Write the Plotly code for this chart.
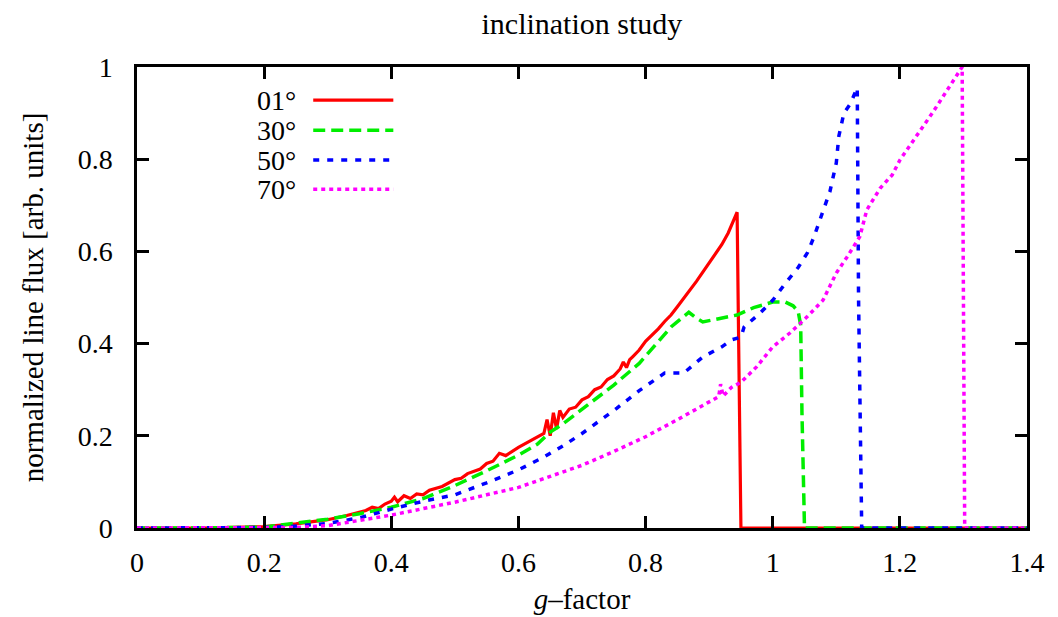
import plotly.graph_objects as go

# g-factor grids and normalized line flux for each inclination
g_01 = [0.0, 0.10, 0.20, 0.25, 0.30, 0.33, 0.36, 0.37, 0.38, 0.39, 0.40, 0.405, 0.41, 0.42,
        0.43, 0.44, 0.45, 0.46, 0.48, 0.50, 0.51, 0.52, 0.54, 0.55, 0.56, 0.57, 0.58, 0.60,
        0.62, 0.63, 0.64, 0.645, 0.65, 0.655, 0.66, 0.665, 0.67, 0.68, 0.69, 0.70, 0.71, 0.72,
        0.73, 0.74, 0.75, 0.76, 0.765, 0.77, 0.775, 0.78, 0.79, 0.80, 0.81, 0.82, 0.83, 0.84,
        0.85, 0.86, 0.87, 0.88, 0.89, 0.90, 0.91, 0.92, 0.93, 0.944, 0.946, 0.95, 1.0, 1.4]
f_01 = [0.0, 0.0, 0.003, 0.009, 0.018, 0.027, 0.038, 0.045, 0.042, 0.052, 0.058, 0.067, 0.057,
        0.070, 0.064, 0.074, 0.072, 0.082, 0.090, 0.105, 0.108, 0.118, 0.128, 0.140, 0.145,
        0.162, 0.157, 0.175, 0.190, 0.197, 0.205, 0.235, 0.200, 0.250, 0.215, 0.255, 0.240,
        0.258, 0.262, 0.278, 0.285, 0.300, 0.306, 0.322, 0.330, 0.345, 0.360, 0.348, 0.365,
        0.372, 0.386, 0.405, 0.418, 0.432, 0.448, 0.462, 0.480, 0.498, 0.518, 0.535, 0.555,
        0.575, 0.597, 0.615, 0.640, 0.685, 0.450, 0.0, 0.0, 0.0]

g_30 = [0.0, 0.10, 0.20, 0.25, 0.30, 0.35, 0.40, 0.45, 0.50, 0.55, 0.60, 0.63, 0.65, 0.67,
        0.70, 0.75, 0.79, 0.82, 0.84, 0.868, 0.88, 0.89, 0.92, 0.944, 0.97, 1.0, 1.02, 1.032,
        1.040, 1.044, 1.046, 1.05, 1.4]
f_30 = [0.0, 0.0, 0.002, 0.010, 0.019, 0.031, 0.045, 0.064, 0.092, 0.124, 0.158, 0.182, 0.208,
        0.226, 0.258, 0.310, 0.357, 0.405, 0.436, 0.468, 0.455, 0.447, 0.455, 0.462, 0.478,
        0.490, 0.490, 0.482, 0.470, 0.440, 0.250, 0.0, 0.0]

g_50 = [0.0, 0.10, 0.20, 0.24, 0.30, 0.35, 0.40, 0.45, 0.50, 0.55, 0.60, 0.64, 0.67, 0.70,
        0.73, 0.755, 0.79, 0.83, 0.86, 0.89, 0.92, 0.935, 0.95, 0.955, 0.98, 1.0, 1.02, 1.04,
        1.055, 1.065, 1.078, 1.09, 1.10, 1.104, 1.112, 1.122, 1.133, 1.135, 1.14, 1.4]
f_50 = [0.0, 0.0, 0.001, 0.003, 0.010, 0.022, 0.041, 0.058, 0.072, 0.098, 0.126, 0.154, 0.178,
        0.205, 0.234, 0.260, 0.298, 0.336, 0.336, 0.371, 0.393, 0.408, 0.414, 0.436, 0.466,
        0.494, 0.531, 0.565, 0.598, 0.632, 0.683, 0.730, 0.792, 0.850, 0.900, 0.920, 0.955,
        0.500, 0.0, 0.0]

g_70 = [0.0, 0.10, 0.25, 0.30, 0.35, 0.40, 0.45, 0.50, 0.55, 0.60, 0.65, 0.70, 0.75, 0.80,
        0.85, 0.90, 0.915, 0.918, 0.922, 0.935, 0.95, 0.975, 1.0, 1.027, 1.054, 1.079, 1.10,
        1.117, 1.137, 1.148, 1.169, 1.188, 1.20, 1.252, 1.298, 1.300, 1.302, 1.4]
f_70 = [0.0, 0.0, 0.001, 0.005, 0.016, 0.028, 0.042, 0.056, 0.072, 0.088, 0.112, 0.136, 0.166,
        0.198, 0.235, 0.272, 0.285, 0.312, 0.286, 0.305, 0.316, 0.350, 0.393, 0.423, 0.458,
        0.494, 0.553, 0.588, 0.632, 0.690, 0.737, 0.766, 0.798, 0.902, 1.0, 0.5, 0.0, 0.0]

labels = ["01°", "30°", "50°", "70°"]
colors = ["#ff0000", "#00ee00", "#0000ff", "#ff00ff"]
dashes = ["solid", "12px,6px", "6px,8px", "4px,4px"]
widths = [3.2, 3.5, 3.5, 3.5]
series = [(g_01, f_01), (g_30, f_30), (g_50, f_50), (g_70, f_70)]

FONT = "Liberation Serif"

fig = go.Figure()
for (gx, fy), name, col, dash, w in zip(series, labels, colors, dashes, widths):
    fig.add_trace(go.Scatter(x=gx, y=fy, mode="lines", name=name, showlegend=False,
                             line=dict(color=col, width=w, dash=dash)))

# key drawn gnuplot-style: label text followed by a line sample
key_y = [0.928, 0.863, 0.798, 0.735]
for name, col, dash, w, ky in zip(labels, colors, dashes, widths, key_y):
    fig.add_annotation(x=0.181, y=ky, xref="paper", yref="paper", text=name,
                       showarrow=False, xanchor="right", yanchor="middle",
                       font=dict(family=FONT, size=28, color="black"))
    fig.add_shape(type="line", xref="paper", yref="paper", x0=0.198, x1=0.288,
                  y0=ky, y1=ky, line=dict(color=col, width=w, dash=dash))

axis_common = dict(showgrid=False, zeroline=False, showline=True, linecolor="black",
                   linewidth=2.5, mirror="allticks", ticks="inside", ticklen=12,
                   tickwidth=2.5, tickcolor="black", automargin=False,
                   tickfont=dict(family=FONT, size=28, color="black"))

fig.update_xaxes(range=[0, 1.4], tickvals=[0, 0.2, 0.4, 0.6, 0.8, 1.0, 1.2, 1.4],
                 ticktext=["0", "0.2", "0.4", "0.6", "0.8", "1", "1.2", "1.4"],
                 ticklabelstandoff=8,
                 title=dict(text="<i>g</i>–factor", standoff=12,
                            font=dict(family=FONT, size=29, color="black")),
                 **axis_common)
fig.update_yaxes(range=[0, 1], tickvals=[0, 0.2, 0.4, 0.6, 0.8, 1.0],
                 ticktext=["0", "0.2", "0.4", "0.6", "0.8", "1"],
                 ticklabelstandoff=16,
                 title=dict(text="normalized line flux [arb. units]", standoff=26,
                            font=dict(family=FONT, size=29, color="black")),
                 **axis_common)

fig.update_layout(
    width=1058, height=617,
    margin=dict(l=137, r=31, t=67, b=89, autoexpand=False),
    paper_bgcolor="white", plot_bgcolor="white",
    title=dict(text="inclination study", x=0.55, xanchor="center", y=0.962, yanchor="middle",
               font=dict(family=FONT, size=30, color="black")),
)

fig.write_html("out.html")
